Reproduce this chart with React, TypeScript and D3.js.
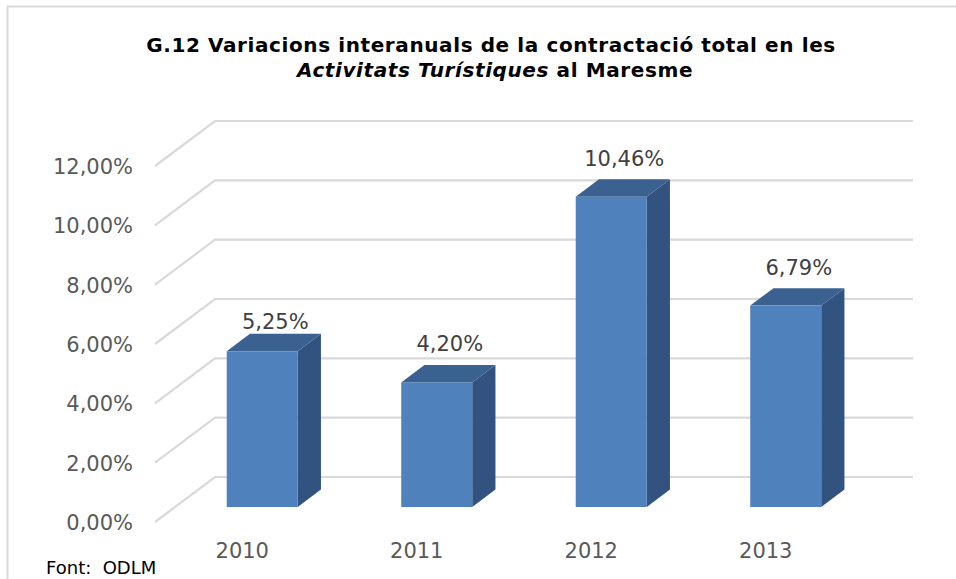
import { useRef, useEffect } from "react";
import * as d3 from "d3";

const years = ["2010", "2011", "2012", "2013"];
const variacions = [5.25, 4.2, 10.46, 6.79];
const yTicks = [0, 2, 4, 6, 8, 10, 12];

const fmt = (v: number) => v.toFixed(2).replace(".", ",") + "%";

export default function App() {
  const svgRef = useRef<SVGSVGElement>(null);

  useEffect(() => {
    const svg = d3.select(svgRef.current);
    svg.selectAll("*").remove();

    const width = 956;
    const height = 579;
    const font = "'DejaVu Sans', Verdana, sans-serif";

    // back wall of the 3D plot area
    const x = d3.scaleBand().domain(years).range([215, 913]);
    const y = d3.scaleLinear().domain([0, 12]).range([477, 121]);
    // full depth of the floor (oblique projection)
    const depthX = -60;
    const depthY = 45;
    const px = (xb: number, z: number) => xb + depthX * z;
    const py = (yb: number, z: number) => yb + depthY * z;

    const barW = 71;
    const zFront = 0.667;
    const zBack = 0.28;

    svg.attr("width", width).attr("height", height);
    svg.append("rect").attr("width", width).attr("height", height).attr("fill", "#fff");

    // outer frame
    svg.append("path")
      .attr("d", `M7.5,${height + 5} V6.5 H${width + 5}`)
      .attr("fill", "none")
      .attr("stroke", "#d9d9d9")
      .attr("stroke-width", 2);

    // title
    const title = svg.append("text")
      .attr("x", 491)
      .attr("text-anchor", "middle")
      .style("font-family", font)
      .style("font-weight", "700")
      .style("font-size", "20px")
      .style("letter-spacing", "0.6px")
      .style("fill", "#000");
    title.append("tspan").attr("x", 491).attr("y", 52)
      .text("G.12 Variacions interanuals de la contractació total en les");
    const l2 = title.append("tspan").attr("x", 495).attr("y", 77);
    l2.append("tspan").style("font-style", "italic").text("Activitats Turístiques");
    l2.append("tspan").text(" al Maresme");

    // gridlines
    const [x0, x1] = x.range();
    svg.append("g")
      .selectAll("path")
      .data(yTicks)
      .join("path")
      .attr("d", d => `M${px(x0, 1)},${py(y(d), 1)} L${x0},${y(d)} H${x1}`)
      .attr("fill", "none")
      .attr("stroke", "#d9d9d9")
      .attr("stroke-width", 2.2);

    // y labels
    svg.append("g")
      .selectAll("text")
      .data(yTicks)
      .join("text")
      .attr("x", 133)
      .attr("y", d => py(y(d), 1) + 8)
      .attr("text-anchor", "end")
      .style("font-family", font)
      .style("font-size", "21px")
      .style("fill", "#595959")
      .text(d => fmt(d));

    // x labels
    svg.append("g")
      .selectAll("text")
      .data(years)
      .join("text")
      .attr("x", d => px(x(d)! + x.bandwidth() / 2, 1))
      .attr("y", 558)
      .attr("text-anchor", "middle")
      .style("font-family", font)
      .style("font-size", "21px")
      .style("fill", "#595959")
      .text(d => d);

    // bars
    const bars = svg.append("g")
      .selectAll("g")
      .data(years.map((yr, i) => ({ yr, v: variacions[i] })))
      .join("g");

    const corners = (d: { yr: string; v: number }) => {
      const l = x(d.yr)! + (x.bandwidth() - barW) / 2;
      const r = l + barW;
      const t = y(d.v);
      const b = y(0);
      return { l, r, t, b };
    };

    // side face
    bars.append("path")
      .attr("d", d => {
        const { r, t, b } = corners(d);
        return `M${px(r, zFront)},${py(t, zFront)} L${px(r, zBack)},${py(t, zBack)} L${px(r, zBack)},${py(b, zBack)} L${px(r, zFront)},${py(b, zFront)} Z`;
      })
      .attr("fill", "#325280");

    // top face
    bars.append("path")
      .attr("d", d => {
        const { l, r, t } = corners(d);
        return `M${px(l, zFront)},${py(t, zFront)} L${px(l, zBack)},${py(t, zBack)} L${px(r, zBack)},${py(t, zBack)} L${px(r, zFront)},${py(t, zFront)} Z`;
      })
      .attr("fill", "#3b6191");

    // front face
    bars.append("rect")
      .attr("x", d => px(corners(d).l, zFront))
      .attr("y", d => py(corners(d).t, zFront))
      .attr("width", barW)
      .attr("height", d => corners(d).b - corners(d).t)
      .attr("fill", "#4f81bd");

    // value labels
    const labelNudge: Record<string, number> = { "2010": 9 };
    bars.append("text")
      .attr("x", d => px(x(d.yr)! + x.bandwidth() / 2, 0.45))
      .attr("y", d => py(corners(d).t, zFront) - 31 + (labelNudge[d.yr] || 0))
      .attr("text-anchor", "middle")
      .style("font-family", font)
      .style("font-size", "21px")
      .style("fill", "#404040")
      .text(d => fmt(d.v));

    // source
    svg.append("text")
      .attr("x", 46)
      .attr("y", 574)
      .style("font-family", font)
      .style("font-size", "18px")
      .style("white-space", "pre")
      .style("fill", "#000")
      .text("Font:  ODLM");
  }, []);

  return (
    <div style={{ position: "absolute", left: 0, top: 0 }}>
      <svg ref={svgRef} style={{ display: "block" }}></svg>
    </div>
  );
}
